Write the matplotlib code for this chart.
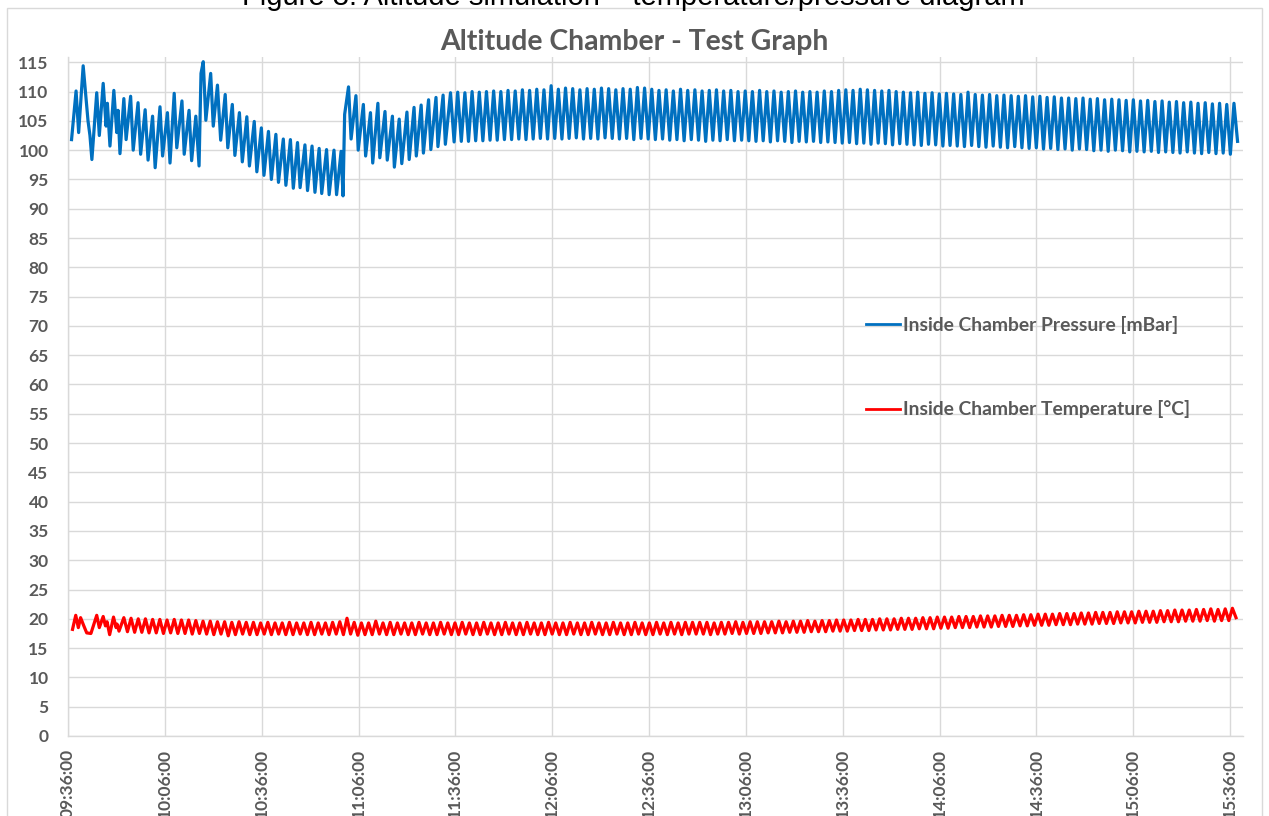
import numpy as np
import matplotlib
matplotlib.use("Agg")
import matplotlib.pyplot as plt
from matplotlib.patches import Rectangle

# ---------------- data ----------------
tick_minutes = [0, 30, 60, 90, 120, 150, 180, 210, 240, 270, 300, 330, 360]
tick_labels = ["09:36:00", "10:06:00", "10:36:00", "11:06:00", "11:36:00", "12:06:00",
               "12:36:00", "13:06:00", "13:36:00", "14:06:00", "14:36:00", "15:06:00",
               "15:36:00"]

# minutes after 09:36:00 / mBar  (irregular first part)
pressure_early_min = [1.1, 2.5, 3.3, 4.7, 5.6, 6.2, 6.8, 7.4, 8.9, 9.7, 10.9, 11.8, 12.2, 13.0,
                      14.2, 15.1, 15.5, 16.1, 17.3, 18.0, 19.4, 20.2, 21.7, 22.5, 23.9, 24.8,
                      26.2, 27.0, 28.5, 29.3, 30.8, 31.6, 32.9, 33.7, 35.3, 36.0, 37.5, 38.3,
                      39.6, 40.6, 41.2, 41.9, 42.7, 44.2, 45.0, 46.3, 47.3, 48.7, 49.5, 50.9,
                      51.7, 53.1, 54.0, 55.4, 56.2, 57.7, 58.5, 59.9, 60.7, 62.1, 63.0, 64.4,
                      65.2, 66.7, 67.5, 68.9, 69.8, 71.1, 71.9, 73.4, 74.2, 75.6, 76.5, 77.8,
                      78.6, 80.1, 80.9, 82.4, 83.2, 84.6, 85.2, 85.7, 86.9, 87.7, 89.2, 89.9,
                      91.5, 92.2, 93.7, 94.4, 96.0, 96.6, 98.2, 98.9, 100.5, 101.1, 102.6,
                      103.4, 105.0, 105.7, 107.2, 107.9, 109.4, 110.1, 111.7, 112.4, 114.0,
                      114.6, 116.2, 116.9]
pressure_early_mbar = [101.8, 110.1, 103.0, 114.4, 108.7, 105.0, 102.5, 98.4, 109.8, 102.5,
                       111.4, 104.1, 108.0, 100.7, 110.2, 103.0, 106.8, 99.4, 108.8, 101.8,
                       109.2, 100.0, 108.1, 99.3, 106.9, 98.3, 105.8, 97.0, 107.4, 99.0,
                       106.4, 97.8, 109.7, 100.4, 108.4, 99.3, 106.8, 98.2, 105.8, 97.3,
                       113.1, 115.1, 105.1, 113.1, 104.1, 111.1, 101.7, 109.5, 100.4, 107.8,
                       99.1, 106.4, 98.0, 105.7, 97.3, 104.9, 96.3, 103.8, 95.7, 103.2, 95.0,
                       102.7, 94.5, 101.9, 94.0, 101.8, 93.5, 101.3, 93.6, 100.9, 93.1, 100.7,
                       92.8, 100.3, 92.6, 100.1, 92.4, 100.0, 92.4, 99.8, 92.2, 106.1, 110.8,
                       101.9, 109.3, 100.0, 107.8, 99.0, 106.4, 97.8, 108.0, 98.7, 106.6,
                       98.3, 105.8, 97.1, 105.3, 97.7, 106.5, 98.4, 107.3, 99.0, 107.7, 99.5,
                       108.6, 100.1, 109.0, 100.6, 109.4, 101.0]

# regular part: alternating peak / trough samples
pressure_start_min = 118.5
pressure_step_min = 1.1133
pressure_peaks = [109.8, 109.9, 109.8, 110.0, 109.9, 110.0, 110.1,
                  110.0, 110.2, 110.1, 110.3, 110.2, 110.4, 110.3,
                  111.0,
                  110.4, 110.6, 110.5, 110.3, 110.5, 110.4, 110.6, 110.5, 110.3, 110.5, 110.4, 110.7, 110.6,
                  110.4, 110.2, 110.3, 110.1, 110.4, 110.2, 110.3, 110.1, 110.2, 110.3, 110.1, 110.2, 110.0,
                  110.1, 110.0, 110.2, 110.0, 110.1, 109.9, 110.0, 110.1, 109.9, 110.0, 109.9, 110.1, 110.0, 110.2,
                  110.3, 110.2, 110.4, 110.3, 110.2, 110.1, 110.2, 110.0,
                  109.9, 109.8, 109.9, 109.7, 109.8, 109.6,
                  109.7, 109.6, 109.5, 109.9, 109.5, 109.4, 109.5, 109.3, 109.4, 109.3, 109.2, 109.3, 109.1,
                  109.2, 109.0, 109.1, 108.9, 108.9, 108.8, 108.9, 108.7, 108.8, 108.6, 108.7, 108.6, 108.5, 108.6,
                  108.4, 108.5, 108.3, 108.4, 108.2, 108.3, 108.1, 108.2, 108.0, 108.1, 107.9, 108.0, 107.8, 108.0]
pressure_troughs = [101.4, 101.5, 101.5, 101.6, 101.6, 101.7, 101.7,
                    101.8, 101.8, 101.9, 101.8, 101.9, 102.0, 101.9,
                    102.0,
                    101.9, 102.0, 102.1, 101.9, 102.0, 101.9, 102.1, 102.0, 101.9, 102.0, 101.8, 102.0, 101.9,
                    101.8, 101.9, 101.7, 101.8, 101.6, 101.8, 101.7, 101.5, 101.7, 101.6, 101.8, 101.6, 101.7,
                    101.6, 101.5, 101.6, 101.4, 101.6, 101.5, 101.3, 101.5, 101.4, 101.5, 101.3, 101.4, 101.3, 101.2,
                    101.3, 101.1, 101.2, 101.0, 101.2, 101.1, 100.9, 101.1,
                    101.0, 100.9, 100.8, 101.0, 100.9, 100.7,
                    100.8, 100.7, 100.6, 100.8, 100.6, 100.5, 100.7, 100.5, 100.4, 100.6, 100.4, 100.3, 100.4,
                    100.2, 100.3, 100.1, 100.2, 100.0, 100.2, 100.1, 99.9, 100.0, 99.8, 100.0, 99.9, 99.7, 99.8,
                    99.7, 99.8, 99.6, 99.7, 99.6, 99.5, 99.7, 99.5, 99.4, 99.6, 99.4, 99.5, 99.3, 101.5]

temperature_early_min = [1.4, 2.4, 3.2, 3.9, 4.9, 5.8, 7.1, 8.9, 9.7, 10.9, 11.6, 12.1, 12.9,
                         14.1, 14.9, 15.2, 15.8]
temperature_early_c = [18.2, 20.6, 18.5, 20.2, 18.8, 17.6, 17.5, 20.6, 18.5, 20.4, 18.8, 19.5,
                       17.3, 20.3, 18.5, 19.1, 17.9]

temperature_start_min = 17.3
temperature_step_min = 1.115
temperature_peaks = [20.2, 20.1, 20.0, 20.0, 19.9, 19.9, 19.8, 19.9, 19.8, 19.8,
                     19.7, 19.6, 19.6, 19.5, 19.5, 19.4, 19.5, 19.4, 19.4, 19.3,
                     19.4, 19.3, 19.3, 19.4, 19.3, 19.3, 19.4, 19.3, 19.3, 19.4,
                     19.5, 20.1, 19.4, 19.3, 19.3, 19.6, 19.3, 19.4, 19.3, 19.3,
                     19.3, 19.4, 19.3, 19.3, 19.4, 19.3, 19.3, 19.4, 19.3, 19.3,
                     19.4, 19.3, 19.3, 19.4, 19.3, 19.3, 19.4, 19.3, 19.3, 19.4,
                     19.3, 19.3, 19.4, 19.3, 19.3, 19.4, 19.3, 19.3, 19.4, 19.3,
                     19.3, 19.4, 19.3, 19.3, 19.4, 19.3, 19.4, 19.3, 19.4, 19.4,
                     19.4, 19.4, 19.3, 19.4, 19.4, 19.5, 19.4, 19.5, 19.5, 19.5,
                     19.5, 19.6, 19.5, 19.6, 19.6, 19.7, 19.6, 19.7, 19.7, 19.8,
                     19.8, 19.8, 19.9, 19.9, 19.9, 20.0, 20.0, 20.0, 20.1, 20.1,
                     20.1, 20.2, 20.2, 20.3, 20.3, 20.3, 20.4, 20.4, 20.4, 20.5,
                     20.5, 20.5, 20.6, 20.6, 20.6, 20.7, 20.7, 20.8, 20.8, 20.8,
                     20.9, 20.9, 20.9, 21.0, 21.0, 21.1, 21.1, 21.1, 21.2, 21.2,
                     21.2, 21.3, 21.3, 21.3, 21.4, 21.4, 21.5, 21.5, 21.5, 21.6,
                     21.6, 21.7, 21.6, 21.7, 21.8]
temperature_troughs = [17.8, 17.7, 17.7, 17.6, 17.6, 17.5, 17.6, 17.5, 17.5, 17.4,
                       17.5, 17.4, 17.3, 17.4, 17.1, 17.3, 17.4, 17.3, 17.3, 17.4,
                       17.3, 17.4, 17.3, 17.3, 17.4, 17.3, 17.3, 17.4, 17.3, 17.4,
                       17.3, 17.4, 17.2, 17.3, 17.3, 17.4, 17.3, 17.3, 17.4, 17.3,
                       17.3, 17.4, 17.3, 17.3, 17.4, 17.3, 17.3, 17.4, 17.3, 17.3,
                       17.4, 17.3, 17.3, 17.4, 17.3, 17.3, 17.4, 17.3, 17.3, 17.4,
                       17.3, 17.3, 17.4, 17.3, 17.3, 17.4, 17.3, 17.3, 17.4, 17.3,
                       17.3, 17.4, 17.3, 17.3, 17.4, 17.3, 17.4, 17.3, 17.4, 17.4,
                       17.4, 17.3, 17.4, 17.4, 17.5, 17.4, 17.5, 17.5, 17.5, 17.6,
                       17.6, 17.6, 17.7, 17.7, 17.7, 17.8, 17.8, 17.8, 17.9, 17.9,
                       17.9, 18.0, 18.0, 18.0, 18.1, 18.1, 18.1, 18.2, 18.2, 18.2,
                       18.3, 18.3, 18.3, 18.4, 18.4, 18.5, 18.5, 18.5, 18.6, 18.6,
                       18.6, 18.7, 18.7, 18.7, 18.8, 18.8, 18.9, 18.9, 18.9, 19.0,
                       19.0, 19.0, 19.1, 19.1, 19.1, 19.2, 19.2, 19.2, 19.3, 19.3,
                       19.3, 19.4, 19.4, 19.4, 19.5, 19.5, 19.5, 19.6, 19.6, 19.6,
                       19.7, 19.6, 19.7, 19.7, 20.2]

pressure_label = "Inside Chamber Pressure [mBar]"
temperature_label = "Inside Chamber Temperature [°C]"
chart_title = "Altitude Chamber - Test Graph"
caption = "Figure 3: Altitude simulation – temperature/pressure diagram"


def build_series(early_t, early_v, start, step, peaks, troughs):
    n = min(len(peaks), len(troughs))
    vals = np.empty(2 * n)
    vals[0::2] = peaks[:n]
    vals[1::2] = troughs[:n]
    times = start + step * np.arange(2 * n)
    return (np.concatenate([np.asarray(early_t, float), times]),
            np.concatenate([np.asarray(early_v, float), vals]))


p_t, p_v = build_series(pressure_early_min, pressure_early_mbar, pressure_start_min,
                        pressure_step_min, pressure_peaks, pressure_troughs)
t_t, t_v = build_series(temperature_early_min, temperature_early_c, temperature_start_min,
                        temperature_step_min, temperature_peaks, temperature_troughs)

# ---------------- figure ----------------
W, H = 1269, 816
fig = plt.figure(figsize=(W / 100, H / 100), dpi=100)
fig.patch.set_facecolor("white")

grey = "#595959"
gridc = "#d9d9d9"
font = "Lato"

ax = fig.add_axes([68 / W, 1 - 736 / H, (1243 - 68) / W, (736 - 57) / H])
ax.plot(p_t, p_v, color="#0070C0", lw=2.3, label=pressure_label, zorder=3)
ax.plot(t_t, t_v, color="#FF0000", lw=2.3, label=temperature_label, zorder=3)

ax.set_xlim(0, 364)
ax.set_ylim(0, 115.9)
ax.set_yticks(np.arange(0, 116, 5))
ax.set_xticks(tick_minutes)
ax.set_xticklabels(tick_labels, rotation=90, va="top", ha="center")
ax.grid(True, color=gridc, lw=1.0, zorder=0)
ax.set_axisbelow(True)
for s in ["top", "right"]:
    ax.spines[s].set_visible(False)
for s in ["left", "bottom"]:
    ax.spines[s].set_color(gridc)
    ax.spines[s].set_linewidth(1.0)
ax.tick_params(axis="both", length=0, colors=grey)
ax.tick_params(axis="y", pad=14)
ax.tick_params(axis="x", pad=9)
for lab in ax.get_xticklabels() + ax.get_yticklabels():
    lab.set_fontfamily(font)
    lab.set_fontweight("bold")
    lab.set_fontsize(12.5)
    lab.set_color(grey)

leg = ax.legend(loc="center left", bbox_to_anchor=(866 / W, 1 - 367 / H),
                bbox_transform=fig.transFigure, frameon=False, handlelength=1.78,
                handletextpad=0.12, labelspacing=3.45, borderpad=0, borderaxespad=0,
                prop=dict(family=font, weight="bold", size=13.9))
for txt in leg.get_texts():
    txt.set_color(grey)
for ln in leg.get_lines():
    ln.set_linewidth(2.0)

fig.text(634 / W, 1 - 42 / H, chart_title, ha="center", va="center", fontsize=20.4,
         fontweight="bold", color=grey, family=font)
fig.text(633.5 / W, 1 - 5 / H, caption, ha="center", va="baseline", fontsize=21,
         color="black", family="Liberation Sans")

fig.patches.append(Rectangle((7 / W, -0.02), (1262 - 7) / W, (H - 8) / H + 0.02,
                             transform=fig.transFigure, fill=False, edgecolor=gridc,
                             lw=1.0))

fig.savefig("out.png", dpi=100)
